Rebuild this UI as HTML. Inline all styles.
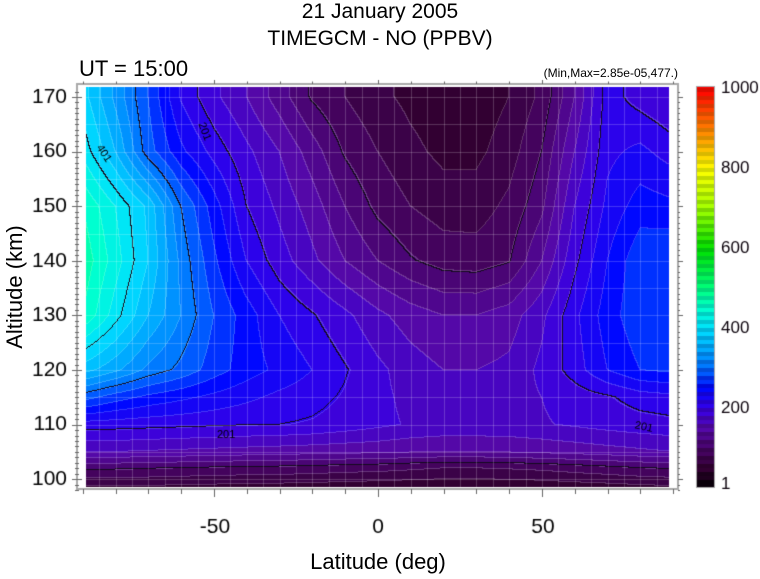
<!DOCTYPE html>
<html><head><style>
body{margin:0;background:#fff;width:760px;height:579px;overflow:hidden;position:relative;font-family:"Liberation Sans",sans-serif;color:#000}
.t{position:absolute;white-space:nowrap}
canvas{position:absolute}
</style></head><body>
<div class="t" style="left:0;width:760px;text-align:center;top:0;font-size:21px">21 January 2005</div>
<div class="t" style="left:0;width:760px;text-align:center;top:27px;font-size:21px">TIMEGCM - NO (PPBV)</div>
<div class="t" style="left:79px;top:56px;font-size:22px">UT = 15:00</div>
<div class="t" style="right:82px;top:66px;font-size:12px">(Min,Max=2.85e-05,477.)</div>
<canvas id="c" width="760" height="579" style="left:0;top:0"></canvas>
<div class="t" style="left:0;top:549px;width:756px;text-align:center;font-size:22px">Latitude (deg)</div>
<div class="t" style="left:-55px;top:274px;width:140px;text-align:center;font-size:22px;transform:rotate(-90deg)">Altitude (km)</div>
<script>
const cv=document.getElementById('c'),ctx=cv.getContext('2d');
const stops=[[0,0,0,0],[50,50,0,50],[100,72,4,104],[150,84,8,168],[200,55,0,230],[250,0,8,255],[300,0,110,255],[350,0,170,255],[400,0,224,255],[450,0,255,208],[500,0,255,128],[600,0,224,0],[700,160,255,0],[800,255,255,0],[900,255,128,0],[1000,255,0,0]];
function cmap(v){v=Math.max(0,Math.min(1000,v));for(let i=1;i<stops.length;i++){if(v<=stops[i][0]){const a=stops[i-1],b=stops[i],f=(v-a[0])/(b[0]-a[0]);return [a[1]+f*(b[1]-a[1]),a[2]+f*(b[2]-a[2]),a[3]+f*(b[3]-a[3])];}}return [255,0,0];}
const alts=[170,160,150,140,130,120,115,110,105,102,98];
const G=[
[390,335,280,218,185,160,130,98,80,65,55,48,48,60,85,140,210,192,180],
[415,360,290,245,213,185,160,130,98,80,65,55,55,70,101,160,215,225,210],
[460,420,375,301,250,201,175,150,120,95,80,70,70,85,115,180,225,250,245],
[475,430,380,315,265,220,190,165,140,120,103,92,90,99,140,195,240,275,280],
[460,410,360,320,280,250,220,203,185,165,150,140,140,150,175,215,250,275,280],
[370,345,315,295,270,250,235,220,203,185,170,160,160,165,185,210,240,260,265],
[290,270,255,245,235,225,215,208,198,185,175,170,170,172,180,190,198,210,215],
[212,210,208,206,204,202,201,198,192,185,178,175,175,175,178,183,188,192,195],
[160,160,158,156,154,152,150,148,146,145,142,140,140,142,145,148,152,156,160],
[105,104,102,100,98,96,95,93,90,88,84,80,80,82,85,90,95,100,103],
[50,50,50,48,47,46,45,44,42,41,40,40,40,40,41,43,45,48,50]];
function val(lat,alt){let fx=(lat+90)/10;fx=Math.max(0,Math.min(17.999,fx));const i=Math.floor(fx),tx=fx-i;
let r=0;while(r<alts.length-2&&alt<alts[r+1])r++;let ty=(alts[r]-alt)/(alts[r]-alts[r+1]);ty=Math.max(0,Math.min(1,ty));
const a=G[r][i]*(1-tx)+G[r][i+1]*tx,b=G[r+1][i]*(1-tx)+G[r+1][i+1]*tx;return a*(1-ty)+b*ty;}
const X0=86,X1=669,Y0=87,Y1=487;
const lx=x=>(x-378)/3.28, ly=y=>170-(y-97)/5.46;
const W=X1-X0,H=Y1-Y0,img=ctx.createImageData(W,H),V=[];
for(let y=0;y<H;y++){V[y]=[];for(let x=0;x<W;x++)V[y][x]=val(lx(X0+x+.5),ly(Y0+y+.5));}
for(let y=0;y<H;y++)for(let x=0;x<W;x++){const v=V[y][x],q=Math.floor(v/20)*20+10;let c=cmap(q);
const k=Math.floor((v-1)/100);let blk=false,lite=false;
if(x+1<W&&Math.floor((V[y][x+1]-1)/100)!=k)blk=true;if(y+1<H&&Math.floor((V[y+1][x]-1)/100)!=k)blk=true;
if(!blk){const k2=Math.floor(v/20);if((x+1<W&&Math.floor(V[y][x+1]/20)!=k2)||(y+1<H&&Math.floor(V[y+1][x]/20)!=k2))lite=true;}
if(blk)c=[20,10,30];else if(lite)c=c.map(t=>t*0.8+255*0.2);
const o=(y*W+x)*4;img.data[o]=c[0];img.data[o+1]=c[1];img.data[o+2]=c[2];img.data[o+3]=255;}
ctx.putImageData(img,X0,Y0);
ctx.strokeStyle='rgba(255,255,255,0.2)';ctx.lineWidth=1;
for(let la=-85;la<=85;la+=5){const x=Math.round(378+la*3.28)+.5;ctx.beginPath();ctx.moveTo(x,Y0);ctx.lineTo(x,Y1);ctx.stroke();}
for(let al=100;al<=170;al+=5){const y=Math.round(97+(170-al)*5.46)+.5;ctx.beginPath();ctx.moveTo(X0,y);ctx.lineTo(X1,y);ctx.stroke();}
ctx.fillStyle='#000';ctx.font='11px "Liberation Sans"';
function lab(t,x,y,r){ctx.save();ctx.translate(x,y);ctx.rotate(r);ctx.fillText(t,-8,4);ctx.restore();}
lab('201',205,130,1.2);lab('401',104,152,1.0);lab('201',225,434,0);lab('201',643,426,0.2);
ctx.strokeStyle='#aaa';ctx.lineWidth=2;ctx.strokeRect(77,84,601,405);
ctx.strokeStyle='#666';ctx.lineWidth=1;
for(let la=-90;la<=90;la+=10){const x=Math.round(378+la*3.28)+.5,L=(la%50==0)?8:5;ctx.beginPath();ctx.moveTo(x,84);ctx.lineTo(x,84-L/2);ctx.moveTo(x,489);ctx.lineTo(x,489+L);ctx.stroke();}
for(let al=98;al<=171;al++){const y=Math.round(97+(170-al)*5.46)+.5,L=(al%10==0)?10:4;ctx.beginPath();ctx.moveTo(77-L/2,y);ctx.lineTo(77+L/2,y);ctx.moveTo(678,y);ctx.lineTo(678+L/2,y);ctx.stroke();}
ctx.fillStyle='#000';ctx.font='21px "Liberation Sans"';ctx.textAlign='right';ctx.textBaseline='middle';
for(let al=100;al<=170;al+=10)ctx.fillText(String(al),67,97+(170-al)*5.46);
ctx.textAlign='center';ctx.textBaseline='middle';
[[-50,215],[0,378],[50,543]].forEach(a=>ctx.fillText(String(a[0]),a[1],527));
for(let y=87;y<487;y++){const v=(487-y)/400*1000;let c=cmap(Math.floor(v/20)*20+10);if(Math.floor(v/10)%2)c=c.map(t=>t*0.85);ctx.fillStyle=`rgb(${c.map(Math.round)})`;ctx.fillRect(697,y,17,1);}
ctx.strokeStyle='#aaa';ctx.lineWidth=1;ctx.strokeRect(696.5,86.5,18,401);
ctx.textAlign='left';ctx.textBaseline='middle';ctx.font='17px "Liberation Sans"';
[[1000,88],[800,168],[600,248],[400,328],[200,408],[1,484]].forEach(a=>ctx.fillText(String(a[0]),721,a[1]));
</script>
</body></html>
